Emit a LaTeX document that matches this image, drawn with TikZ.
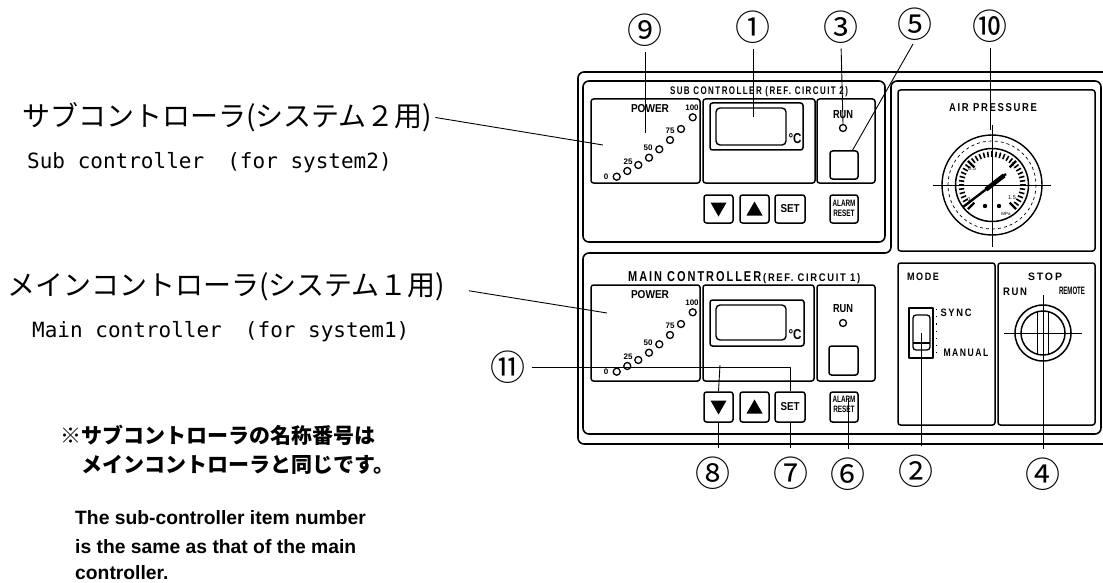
\documentclass[tikz,border=0pt]{standalone}
\usepackage{fontspec}
\usepackage{graphicx}
\setmainfont{Liberation Sans}
\newfontfamily\jp{Noto Sans CJK JP}
\newfontfamily\mono{DejaVu Sans Mono}
\newfontfamily\spaced[LetterSpace=18]{Liberation Sans}
\newcommand\fitt[3]{\resizebox{#1pt}{#2pt}{#3}}
\newcommand\alarmtxt{\resizebox{23pt}{13pt}{\bfseries\begin{tabular}{@{}c@{}}ALARM\\[-1pt]RESET\end{tabular}}}
\begin{document}
\begin{tikzpicture}[x=1pt,y=-1pt,line join=round,
  frm/.style={draw,line width=1.6pt,rounded corners=6pt},
  pbox/.style={draw,line width=1.5pt,rounded corners=2.5pt},
  lead/.style={line width=0.9pt},
  num/.style={font=\jp\fontsize{35}{35}\selectfont,inner sep=0pt},
  lbl/.style={inner sep=0pt},
  btn/.style={draw,line width=1.5pt,rounded corners=2.5pt,minimum width=29pt,minimum height=28pt,inner sep=0pt},
  led/.style={draw,line width=1.3pt,circle,minimum size=7pt,inner sep=0pt},
  tinyl/.style={inner sep=0pt,font=\bfseries\fontsize{8}{8}\selectfont},
  jtxt/.style={inner sep=0pt,anchor=west,font=\jp\fontsize{28}{30}\selectfont},
  etxt/.style={inner sep=0pt,anchor=west,font=\mono\fontsize{21}{24}\selectfont},
  jnote/.style={inner sep=0pt,anchor=west,font=\jp\bfseries\fontsize{21}{24}\selectfont},
  enote/.style={inner sep=0pt,anchor=west,font=\bfseries\fontsize{19.3}{22}\selectfont},
]
\useasboundingbox (0,0) rectangle (1103,583);

% ---------- frames ----------
\draw[frm] (578,72) rectangle (1125,444);
\draw[frm] (583,81) rectangle (885,242);
\draw[frm] (583,253) -- (891,253) -- (891,81) -- (1101,81) -- (1101,434) -- (583,434) -- cycle;

% ---------- sub controller ----------
\node[lbl] (stitle) at (759,92) {\fitt{178}{8}{\spaced\bfseries SUB CONTROLLER (REF. CIRCUIT 2)}};
\draw[pbox] (591,99) rectangle (700,183);
\node[lbl] (spow) at (650,109) {\fitt{38}{8}{\bfseries POWER}};
\draw[pbox] (703,99) rectangle (815,183);
\draw[pbox] (710,103) rectangle (803,150);
\node[draw,line width=1.4pt,rounded corners=4pt,minimum width=70pt,minimum height=37pt,inner sep=0pt] (slcd) at (751,126.5) {};
\node[lbl] (sdeg) at (795,139) {\fitt{13}{10}{\bfseries °C}};
\draw[pbox] (817,99) rectangle (875,183);
\node[lbl] (srun) at (843,115) {\fitt{20}{8}{\bfseries RUN}};
\node[led] (sled) at (843,128) {};
\node[btn,minimum width=28pt] (ssq) at (844,165) {};
\node[btn] (sdn) at (718.5,209) {};
\node[btn] (sup) at (754.5,209) {};
\node[btn,minimum width=30pt] (sset) at (790,209) {\fitt{19}{8}{\bfseries SET}};
\node[btn,minimum width=28pt] (salm) at (844,209) {};
\node[lbl] (salmt) at (844,209) {\alarmtxt};
\fill[shift={(sdn.center)}] (-8,-6.5) -- (8,-6.5) -- (0,7.5) -- cycle;
\fill[shift={(sup.center)}] (-8,6.5) -- (8,6.5) -- (0,-7.5) -- cycle;

% ---------- main controller ----------
\node[lbl,anchor=base west] (mt1) at (628,281) {\fitt{133}{10}{\spaced\bfseries MAIN CONTROLLER}};
\node[lbl,anchor=base west] (mt2) at (763,281) {\fitt{97}{8}{\spaced\bfseries (REF. CIRCUIT 1)}};
\draw[pbox] (591,285) rectangle (700,381);
\node[lbl] (mpow) at (650,295) {\fitt{38}{8}{\bfseries POWER}};
\draw[pbox] (703,285) rectangle (814,381);
\draw[pbox] (710,300) rectangle (804,346);
\node[draw,line width=1.4pt,rounded corners=4pt,minimum width=70pt,minimum height=35pt,inner sep=0pt] (mlcd) at (751,322.5) {};
\node[lbl] (mdeg) at (795,335) {\fitt{13}{10}{\bfseries °C}};
\draw[pbox] (817,285) rectangle (875,381);
\node[lbl] (mrun) at (843,309) {\fitt{20}{8}{\bfseries RUN}};
\node[led] (mled) at (843,323) {};
\node[btn,minimum width=29pt,minimum height=29pt] (msq) at (843.5,360.5) {};
\node[btn,minimum height=30pt] (mdn) at (718.5,407) {};
\node[btn,minimum height=30pt] (mup) at (754.5,407) {};
\node[btn,minimum width=30pt,minimum height=30pt] (mset) at (790,407) {\fitt{19}{8}{\bfseries SET}};
\node[btn,minimum width=28pt,minimum height=30pt] (malm) at (844,407) {};
\node[lbl] (malmt) at (844,405) {\alarmtxt};
\fill[shift={(mdn.center)}] (-8,-6.5) -- (8,-6.5) -- (0,7.5) -- cycle;
\fill[shift={(mup.center)}] (-8,6.5) -- (8,6.5) -- (0,-7.5) -- cycle;

% power LEDs
\foreach \x/\y [count=\i] in {616.7/176.7,627.3/171,638.3/165,649/157.7,659.3/149.3,670/140,681/129,692.7/117.3}
  {\node[led] (sl\i) at (\x,\y) {}; \node[led] (ml\i) at (\x,\y+195) {};}
\foreach \t/\x/\y [count=\i] in {0/606/177,25/628/162,50/648/148,75/670/131,100/692/108}
  {\node[tinyl] (slb\i) at (\x,\y) {\t}; \node[tinyl] (mlb\i) at (\x,\y+195) {\t};}

% ---------- air pressure ----------
\draw[pbox] (898,90) rectangle (1095,251);
\node[lbl] (air) at (993,108) {\fitt{88}{8}{\spaced\bfseries AIR PRESSURE}};
\coordinate (gc) at (992,185);
\draw[line width=1.4pt] (gc) circle[radius=50];
\draw[line width=0.7pt,dash pattern=on 3pt off 3pt] (gc) circle[radius=44];
\draw[line width=1.5pt] (gc) circle[radius=36.5];
\foreach \i in {0,...,36} {\pgfmathsetmacro\b{-(225-7.5*\i)}
  \draw[line width=1.6pt] ([shift={(\b:28)}]gc) -- ([shift={(\b:33.5)}]gc);}
\foreach \b in {-225,-135,-45,45}
  \draw[line width=2.4pt] ([shift={(\b:25)}]gc) -- ([shift={(\b:34)}]gc);
\draw[line width=0.8pt] (933,185) -- (1051,185);
\draw[line width=0.8pt] (992,125) -- (992,247);
\draw[line width=2.4pt] (963,207) -- (1006,174);
\draw[line width=4.5pt] (986,189.5) -- (1004,175.5);
\fill (985,206) circle[radius=2.2];
\fill (999,206) circle[radius=2.2];
\node[lbl,font=\fontsize{5.5}{5.5}\selectfont] (g0) at (969,200) {0};
\node[lbl,font=\fontsize{5.5}{5.5}\selectfont] (g05) at (972,169) {0.5};
\node[lbl,font=\fontsize{5.5}{5.5}\selectfont] (g1) at (1013,165) {1};
\node[lbl,font=\fontsize{5.5}{5.5}\selectfont] (g15) at (1012,198) {1.5};
\node[lbl,font=\fontsize{4.5}{4.5}\selectfont] (gmpa) at (1006,214) {MPa};

% ---------- mode ----------
\draw[pbox] (898,263) rectangle (995,425);
\node[lbl] (mode) at (923,277) {\fitt{32}{7.5}{\spaced\bfseries MODE}};
\draw[line width=1.3pt] (909,308) rectangle (933,358);
\node[draw,line width=1.3pt,rounded corners=3pt,minimum width=17pt,minimum height=35pt,inner sep=0pt] (tog) at (921.5,332.5) {};
\draw[line width=1.3pt] (913,343) -- (930,343);
\draw[line width=1pt,dash pattern=on 1.2pt off 6pt] (936,309) -- (936,358);
\node[lbl] (sync) at (956,313) {\fitt{31}{7.5}{\spaced\bfseries SYNC}};
\node[lbl] (manual) at (966,353) {\fitt{45}{7.5}{\spaced\bfseries MANUAL}};

% ---------- stop ----------
\draw[pbox] (998,263) rectangle (1095,425);
\node[lbl] (stop) at (1045,277) {\fitt{34}{7.5}{\spaced\bfseries STOP}};
\node[lbl] (krun) at (1015,292) {\fitt{24}{7.5}{\spaced\bfseries RUN}};
\node[lbl] (remote) at (1072,291) {\fitt{26}{7.5}{\bfseries REMOTE}};
\coordinate (kc) at (1043,333);
\draw[line width=1.5pt] (kc) circle[radius=28];
\draw[line width=1.5pt] (kc) circle[radius=22];
\draw[line width=0.8pt] (1004,333) -- (1082,333);
\draw[line width=0.8pt] (1043,295) -- (kc);
\draw[line width=1.3pt] (1037.5,312) -- (1037.5,354);
\draw[line width=1.3pt] (1048.5,312) -- (1048.5,354);

% ---------- circled numbers & leaders ----------
\node[num] (n9) at (645,30) {⑨};
\node[num] (n1) at (753,27) {①};
\node[num] (n3) at (841,27) {③};
\node[num] (n5) at (915,24) {⑤};
\node[num] (n10) at (990,26) {⑩};
\node[num] (n8) at (713,473) {⑧};
\node[num] (n7) at (791,473) {⑦};
\node[num] (n6) at (848,474) {⑥};
\node[num] (n2) at (916,471) {②};
\node[num] (n4) at (1043,474) {④};
\node[num] (n11) at (508,367) {⑪};

\coordinate (p9) at (645,133);
\coordinate (p1) at (753,117);
\coordinate (p10) at (990,130);
\coordinate (p6) at (848,398);
\draw[lead,shorten <=5pt] (n9.south) -- (p9);
\draw[lead,shorten <=5pt] (n1.south) -- (p1);
\draw[lead,shorten <=5pt] (n3.south) -- (sled.north);
\draw[lead,shorten <=4pt] (n5.south) -- (ssq.60);
\draw[lead,shorten <=5pt] (n10.south) -- (p10);
\draw[lead,shorten >=8pt] (mdn.south) -- (mdn.south |- n8.north);
\draw[lead,shorten >=8pt] (mset.south) -- (mset.south |- n7.north);
\draw[lead,shorten >=8pt] (p6) -- (p6 |- n6.north);
\draw[lead,shorten >=8pt] (tog.center) -- (tog.center |- n2.north);
\draw[lead,shorten >=8pt] (kc) -- (kc |- n4.north);
\coordinate (b11) at (720,365);
\draw[lead,shorten <=6pt] (n11.east) -- (n11.east -| mset.north) -- (mset.north);
\draw[lead] (b11) -- (mdn.north);

% ---------- left texts ----------
\node[jtxt] (jsub) at (22,117) {サブコントローラ(システム２用)};
\node[etxt] (esub) at (27,163) {Sub controller\hspace{0.5em} (for system2)};
\node[jtxt] (jmain) at (7,287) {メインコントローラ(システム１用)};
\node[etxt] (emain) at (32,332) {Main controller\hspace{0.5em} (for system1)};
\coordinate (ps) at (603,145);
\coordinate (pm) at (607,313);
\draw[lead,shorten <=3pt] (jsub.east) -- (ps);
\draw[lead,shorten <=24pt] (jmain.east) -- (pm);

\node[jnote] (note1) at (60,435) {※サブコントローラの名称番号は};
\node[jnote] (note2) at (60,465) {　メインコントローラと同じです。};
\node[enote] (note3) at (75,518) {The sub-controller item number};
\node[enote] (note4) at (75,547) {is the same as that of the main};
\node[enote] (note5) at (75,573) {controller.};
\end{tikzpicture}
\end{document}
